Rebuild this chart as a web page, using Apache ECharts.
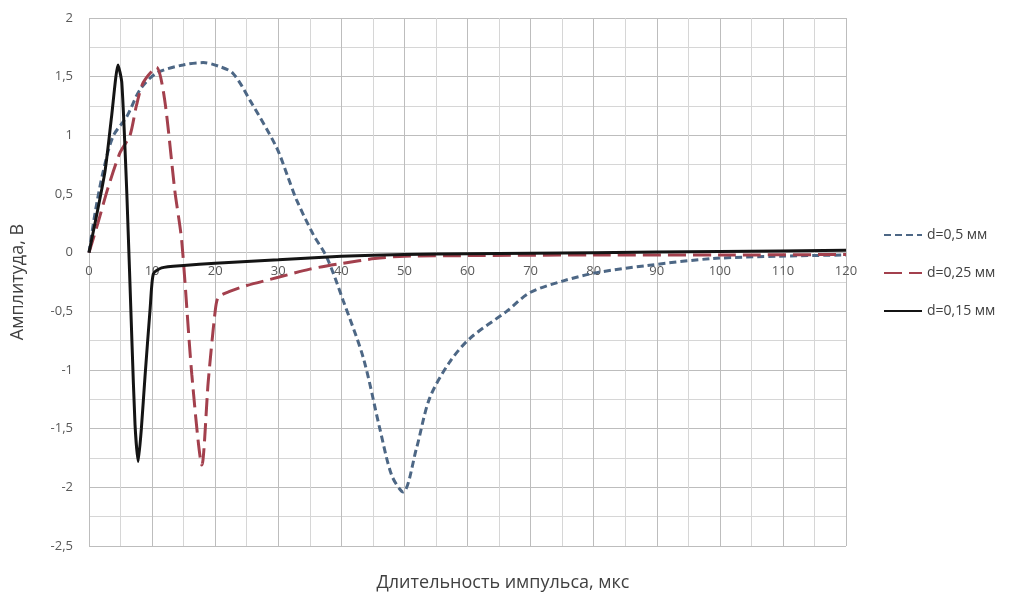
<!DOCTYPE html>
<html>
<head>
<meta charset="utf-8">
<script src="https://cdn.jsdelivr.net/npm/echarts@6/dist/echarts.min.js"></script>
<style>html,body{margin:0;padding:0;background:#fff;}#c{width:1025px;height:597px;}</style>
</head>
<body>
<div id="c"></div>
<script>
var seriesNames = ['d=0,5 мм', 'd=0,25 мм', 'd=0,15 мм'];
var xTicks = [0, 10, 20, 30, 40, 50, 60, 70, 80, 90, 100, 110, 120];
var yTicks = [-2.5, -2, -1.5, -1, -0.5, 0, 0.5, 1, 1.5, 2];

var d05X = [0, 1, 2.2, 3.8, 6, 8.1, 10.7, 14.9, 18.1, 20.5, 22.8, 25.5, 29.7, 31.5, 32.9, 35.5, 37.7, 40.3, 43.5, 46.1, 48, 49.8, 51.9, 54, 57.2, 60.4, 66.2, 69.9, 75.2, 80.5, 88.4, 98.9, 109.5, 120];
var d05Y = [0, 0.35, 0.68, 0.99, 1.16, 1.39, 1.53, 1.6, 1.62, 1.59, 1.53, 1.3, 0.9, 0.65, 0.45, 0.16, -0.04, -0.41, -0.9, -1.5, -1.9, -2.04, -1.67, -1.24, -0.93, -0.73, -0.5, -0.34, -0.24, -0.17, -0.11, -0.05, -0.03, -0.02];

var d025X = [0, 1.4, 3, 4.9, 6.5, 7.5, 8.6, 10.7, 12, 13.6, 14.7, 16.3, 17.9, 18.9, 20, 20.5, 22.3, 25, 30, 35, 40.3, 45.3, 50, 60, 80, 100, 120];
var d025Y = [0, 0.25, 0.55, 0.85, 1.0, 1.25, 1.45, 1.58, 1.3, 0.53, 0.1, -1.04, -1.81, -1.1, -0.5, -0.38, -0.33, -0.28, -0.21, -0.14, -0.09, -0.05, -0.03, -0.025, -0.02, -0.02, -0.015];

var d015X = [0, 2.5, 3.6, 4.6, 5.2, 6.0, 6.8, 7.3, 7.8, 8.3, 8.9, 9.7, 10.2, 11.5, 15, 20, 30, 40, 50, 60, 80, 100, 120];
var d015Y = [0, 0.68, 1.17, 1.6, 1.45, 0.5, -0.75, -1.47, -1.78, -1.5, -1.04, -0.47, -0.18, -0.13, -0.11, -0.09, -0.06, -0.03, -0.015, -0.01, 0, 0.01, 0.02];

function pairs(xs, ys) { return xs.map(function (x, i) { return [x, ys[i]]; }); }

var gridTop = 18, gridBottom = 51, chartH = 597;
var plotH = chartH - gridTop - gridBottom;
var yMin = yTicks[0], yMax = yTicks[yTicks.length - 1];
var zeroFromBottom = plotH * (0 - yMin) / (yMax - yMin);

var chart = echarts.init(document.getElementById('c'));
var font = '"Open Sans", sans-serif';
chart.setOption({
  animation: false,
  backgroundColor: '#fff',
  title: {
    text: 'Длительность импульса, мкс',
    left: 498, top: 569, textAlign: 'center',
    textStyle: { fontFamily: font, fontSize: 18, fontWeight: 'normal', color: '#404040' }
  },
  grid: { left: 89, right: 179, top: gridTop, bottom: gridBottom, containLabel: false },
  legend: {
    orient: 'vertical', left: 878, top: 223, itemGap: 24,
    itemWidth: 38, itemHeight: 14,
    itemStyle: { opacity: 0 },
    textStyle: { fontFamily: font, fontSize: 14, color: '#404040' },
    data: seriesNames
  },
  xAxis: {
    type: 'value', min: xTicks[0], max: xTicks[xTicks.length - 1], interval: 10,
    offset: -zeroFromBottom,
    axisLine: { show: false, onZero: false },
    axisTick: { show: false },
    axisLabel: { fontFamily: font, fontSize: 13, color: '#595959', margin: 12 },
    splitLine: { show: true, lineStyle: { color: '#bdbdbd', width: 1 } },
    minorTick: { show: false, splitNumber: 2 },
    minorSplitLine: { show: true, lineStyle: { color: '#d6d6d6', width: 1 } }
  },
  yAxis: {
    type: 'value', min: yMin, max: yMax, interval: 0.5,
    name: 'Амплитуда, В', nameLocation: 'middle', nameGap: 62,
    nameTextStyle: { fontFamily: font, fontSize: 18, color: '#404040' },
    axisLine: { show: false },
    axisTick: { show: false },
    axisLabel: {
      fontFamily: font, fontSize: 13, color: '#595959', margin: 16,
      formatter: function (v) { return String(v).replace('.', ','); }
    },
    splitLine: { show: true, lineStyle: { color: '#bdbdbd', width: 1 } },
    minorTick: { show: false, splitNumber: 2 },
    minorSplitLine: { show: true, lineStyle: { color: '#d6d6d6', width: 1 } }
  },
  series: [
    {
      name: seriesNames[0], type: 'line', data: pairs(d05X, d05Y), symbol: 'none', smooth: 0.3,
      color: '#4d6785', lineStyle: { color: '#4d6785', width: 3, type: [7, 4] }, z: 3
    },
    {
      name: seriesNames[1], type: 'line', data: pairs(d025X, d025Y), symbol: 'none', smooth: 0.25,
      color: '#a3404d', lineStyle: { color: '#a3404d', width: 3, type: [18, 7] }, z: 4
    },
    {
      name: seriesNames[2], type: 'line', data: pairs(d015X, d015Y), symbol: 'none', smooth: 0.2,
      color: '#141414', lineStyle: { color: '#141414', width: 3 }, z: 5
    }
  ]
});
</script>
</body>
</html>
